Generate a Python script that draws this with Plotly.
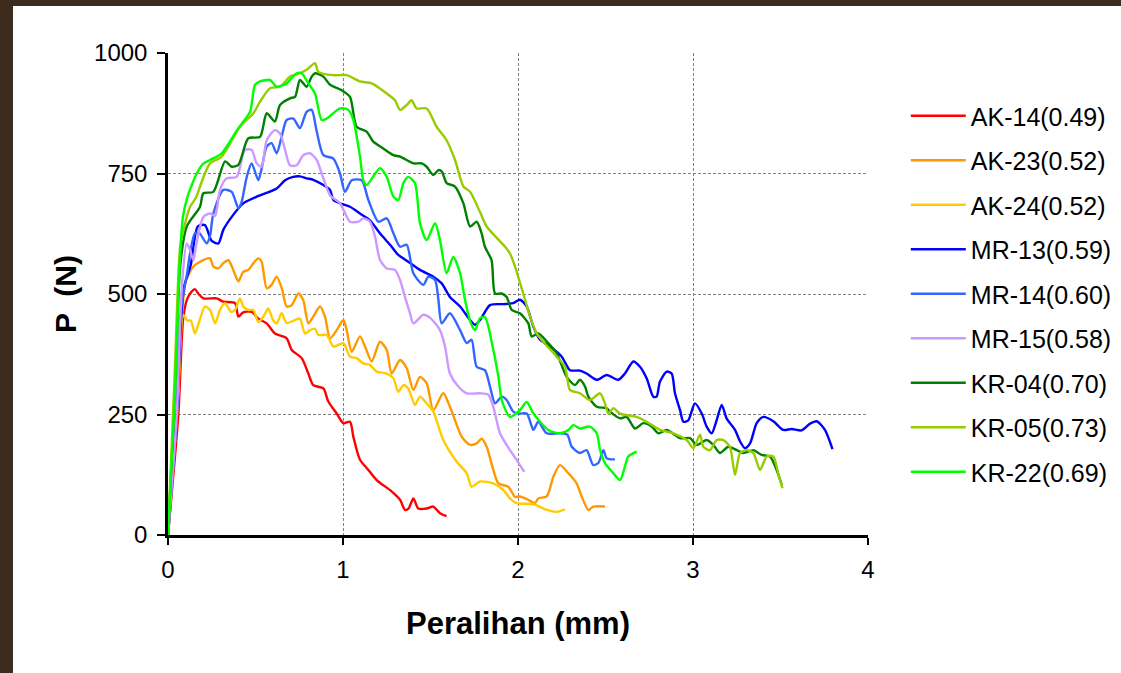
import plotly.graph_objects as go

# ---------------- data ----------------
names = ["AK-14(0.49)", "AK-23(0.52)", "AK-24(0.52)", "MR-13(0.59)", "MR-14(0.60)",
         "MR-15(0.58)", "KR-04(0.70)", "KR-05(0.73)", "KR-22(0.69)"]
colors = ["#FF0000", "#FF9900", "#FFCC00", "#0000FF", "#3366FF",
          "#CC99FF", "#008000", "#99CC00", "#00FF00"]

ak14_x = [0, 0.059, 0.087, 0.11, 0.135, 0.154, 0.175, 0.202, 0.278, 0.316, 0.383, 0.402, 0.43, 0.478,
          0.516, 0.564, 0.611, 0.678, 0.707, 0.764, 0.802, 0.83, 0.888, 0.916, 0.964, 1.002, 1.04, 1.059,
          1.097, 1.145, 1.192, 1.269, 1.326, 1.354, 1.375, 1.402, 1.43, 1.478, 1.516, 1.554, 1.592]
ak14_y = [0, 250, 450, 490, 505, 510, 500, 491, 491, 484, 481, 453, 462, 463, 449, 439, 418, 408, 384,
          367, 335, 311, 304, 277, 252, 232, 235, 204, 156, 135, 114, 93, 73, 52, 55, 76, 55, 55, 59, 45, 39]

ak23_x = [0, 0.05, 0.085, 0.1, 0.145, 0.183, 0.24, 0.259, 0.288, 0.316, 0.345, 0.373, 0.402, 0.43, 0.459,
          0.488, 0.516, 0.535, 0.564, 0.592, 0.621, 0.65, 0.678, 0.707, 0.745, 0.773, 0.802, 0.83, 0.869,
          0.897, 0.926, 0.964, 1.002, 1.021, 1.05, 1.097, 1.126, 1.164, 1.211, 1.25, 1.278, 1.326, 1.364,
          1.402, 1.44, 1.478, 1.516, 1.573, 1.611, 1.678, 1.726, 1.764, 1.792, 1.821, 1.859, 1.888, 1.945,
          1.983, 2.011, 2.059, 2.097, 2.116, 2.164, 2.202, 2.24, 2.288, 2.335, 2.364, 2.402, 2.43, 2.497]
ak23_y = [0, 250, 480, 525, 557, 567, 574, 557, 553, 564, 570, 550, 526, 546, 550, 564, 574, 567, 512,
          519, 536, 512, 474, 477, 501, 487, 439, 453, 474, 453, 408, 425, 446, 425, 380, 412, 391, 360,
          401, 384, 335, 363, 346, 301, 328, 315, 259, 294, 266, 204, 187, 190, 200, 183, 135, 107, 100,
          79, 80, 73, 66, 76, 80, 121, 145, 128, 107, 80, 52, 59, 59]

ak24_x = [0, 0.06, 0.075, 0.088, 0.11, 0.13, 0.154, 0.18, 0.211, 0.24, 0.269, 0.297, 0.326, 0.36, 0.383,
          0.411, 0.43, 0.459, 0.488, 0.516, 0.545, 0.573, 0.6, 0.621, 0.649, 0.678, 0.726, 0.754, 0.783,
          0.811, 0.84, 0.859, 0.907, 0.945, 1.002, 1.04, 1.078, 1.116, 1.154, 1.192, 1.25, 1.288, 1.316,
          1.345, 1.373, 1.411, 1.44, 1.478, 1.516, 1.573, 1.65, 1.707, 1.735, 1.783, 1.859, 1.916, 1.954,
          1.992, 2.088, 2.164, 2.221, 2.269]
ak24_y = [0, 300, 440, 456, 445, 445, 418, 445, 474, 467, 439, 467, 481, 463, 467, 491, 474, 467, 467,
          442, 453, 470, 446, 439, 460, 440, 446, 449, 418, 425, 428, 415, 415, 391, 398, 370, 367, 356,
          353, 339, 335, 325, 297, 311, 304, 270, 287, 273, 256, 197, 152, 128, 100, 111, 107, 93, 76, 66,
          64, 52, 48, 53]

mr13_x = [0, 0.05, 0.075, 0.092, 0.13, 0.17, 0.211, 0.25, 0.288, 0.316, 0.364, 0.43, 0.507, 0.621, 0.669,
          0.716, 0.754, 0.792, 0.83, 0.888, 0.926, 0.945, 0.983, 1.04, 1.097, 1.154, 1.211, 1.269, 1.316,
          1.373, 1.44, 1.516, 1.564, 1.611, 1.669, 1.726, 1.754, 1.783, 1.84, 1.916, 1.973, 2.011, 2.05,
          2.088, 2.126, 2.183, 2.25, 2.297, 2.354, 2.392, 2.45, 2.507, 2.573, 2.611, 2.659, 2.697, 2.735,
          2.773, 2.792, 2.811, 2.85, 2.878, 2.897, 2.926, 2.945, 2.973, 3.011, 3.05, 3.078, 3.107, 3.135,
          3.164, 3.192, 3.24, 3.269, 3.297, 3.326, 3.364, 3.402, 3.459, 3.516, 3.564, 3.621, 3.669, 3.707,
          3.754, 3.797]
mr13_y = [0, 250, 450, 515, 560, 640, 643, 610, 605, 633, 660, 688, 702, 719, 736, 743, 744, 740, 737,
          726, 716, 695, 688, 681, 667, 653, 626, 602, 581, 567, 550, 536, 522, 494, 474, 446, 436, 446,
          477, 479, 481, 488, 474, 432, 405, 391, 370, 342, 341, 335, 322, 332, 322, 335, 360, 349, 325,
          287, 287, 318, 339, 335, 294, 259, 235, 238, 273, 252, 225, 211, 238, 270, 242, 218, 194, 180,
          190, 232, 245, 236, 218, 220, 217, 231, 236, 218, 178]

mr14_x = [0, 0.05, 0.075, 0.11, 0.126, 0.154, 0.18, 0.221, 0.24, 0.259, 0.316, 0.364, 0.402, 0.42, 0.45,
          0.478, 0.516, 0.535, 0.564, 0.592, 0.621, 0.649, 0.678, 0.716, 0.754, 0.792, 0.821, 0.85, 0.888,
          0.945, 0.983, 1.011, 1.05, 1.107, 1.145, 1.202, 1.25, 1.288, 1.326, 1.364, 1.402, 1.459, 1.488,
          1.526, 1.545, 1.564, 1.611, 1.669, 1.707, 1.735, 1.764, 1.811, 1.84, 1.869, 1.907, 1.935, 1.973,
          2.002, 2.05, 2.088, 2.116, 2.164, 2.24, 2.282, 2.307, 2.354, 2.392, 2.43, 2.46, 2.488, 2.507, 2.554]
mr14_y = [0, 250, 470, 545, 584, 626, 626, 605, 620, 667, 716, 712, 678, 690, 743, 771, 736, 760, 806,
          813, 792, 826, 861, 864, 844, 878, 882, 837, 788, 781, 750, 712, 736, 736, 695, 650, 657, 626,
          598, 602, 543, 519, 536, 529, 488, 439, 460, 425, 398, 405, 349, 342, 308, 273, 287, 280, 256,
          252, 252, 218, 235, 211, 211, 208, 183, 170, 176, 145, 150, 176, 159, 157]

mr15_x = [0, 0.05, 0.08, 0.107, 0.126, 0.145, 0.16, 0.202, 0.24, 0.269, 0.297, 0.335, 0.392, 0.44, 0.478,
          0.507, 0.535, 0.564, 0.611, 0.64, 0.669, 0.697, 0.735, 0.773, 0.811, 0.85, 0.878, 0.926, 0.983,
          1.04, 1.088, 1.116, 1.154, 1.183, 1.211, 1.25, 1.297, 1.326, 1.354, 1.383, 1.402, 1.459, 1.5,
          1.554, 1.583, 1.611, 1.659, 1.707, 1.783, 1.83, 1.859, 1.897, 1.954, 1.992, 2.036]
mr15_y = [0, 250, 520, 605, 591, 570, 600, 660, 667, 662, 716, 740, 743, 799, 799, 771, 764, 819, 840,
          833, 799, 767, 767, 788, 792, 778, 750, 705, 688, 650, 650, 657, 650, 619, 571, 553, 550, 529,
          494, 460, 439, 457, 450, 425, 391, 335, 308, 294, 294, 291, 266, 211, 176, 156, 131]

kr04_x = [0, 0.04, 0.07, 0.107, 0.183, 0.202, 0.259, 0.326, 0.364, 0.402, 0.459, 0.526, 0.564, 0.611,
          0.64, 0.697, 0.726, 0.754, 0.792, 0.821, 0.84, 0.888, 0.926, 0.992, 1.04, 1.078, 1.135, 1.173,
          1.23, 1.288, 1.326, 1.402, 1.45, 1.478, 1.516, 1.545, 1.565, 1.592, 1.64, 1.688, 1.726, 1.764,
          1.792, 1.811, 1.849, 1.869, 1.907, 1.935, 1.964, 2.011, 2.059, 2.078, 2.116, 2.173, 2.221, 2.278,
          2.326, 2.354, 2.383, 2.402, 2.45, 2.507, 2.526, 2.583, 2.621, 2.669, 2.716, 2.764, 2.802, 2.85,
          2.926, 2.983, 3.021, 3.078, 3.116, 3.154, 3.202, 3.25, 3.288, 3.345, 3.392, 3.44, 3.478, 3.507]
kr04_y = [0, 300, 560, 640, 681, 709, 712, 775, 764, 768, 823, 826, 875, 858, 892, 906, 909, 944, 930,
          951, 958, 951, 934, 923, 909, 847, 837, 816, 802, 788, 785, 771, 771, 764, 747, 757, 754, 730,
          723, 688, 640, 650, 626, 598, 570, 501, 501, 494, 467, 460, 439, 412, 418, 398, 377, 328, 311,
          322, 308, 287, 266, 263, 256, 242, 245, 221, 232, 225, 211, 218, 201, 201, 187, 197, 187, 170,
          183, 176, 170, 176, 166, 163, 135, 104]

kr05_x = [0, 0.04, 0.07, 0.1, 0.126, 0.16, 0.2, 0.24, 0.307, 0.411, 0.488, 0.526, 0.583, 0.64, 0.697,
          0.754, 0.802, 0.84, 0.859, 0.945, 1.021, 1.097, 1.164, 1.25, 1.297, 1.326, 1.364, 1.392, 1.421,
          1.478, 1.535, 1.592, 1.64, 1.688, 1.726, 1.783, 1.821, 1.926, 1.954, 1.983, 2.03, 2.069, 2.107,
          2.221, 2.269, 2.297, 2.354, 2.411, 2.469, 2.497, 2.516, 2.545, 2.583, 2.678, 2.735, 2.811, 2.888,
          2.964, 3.002, 3.04, 3.059, 3.097, 3.135, 3.173, 3.211, 3.24, 3.269, 3.307, 3.345, 3.383, 3.421,
          3.459, 3.487, 3.511]
kr05_y = [0, 350, 600, 650, 681, 700, 740, 771, 785, 847, 875, 899, 927, 930, 951, 958, 968, 979, 961,
          954, 954, 941, 937, 916, 902, 882, 892, 902, 885, 885, 847, 819, 778, 723, 712, 670, 640, 598,
          584, 557, 501, 453, 418, 370, 349, 301, 294, 280, 294, 273, 252, 263, 252, 245, 235, 218, 211,
          197, 180, 208, 183, 176, 197, 197, 183, 125, 170, 176, 170, 135, 163, 163, 128, 97]

kr22_x = [0, 0.04, 0.065, 0.085, 0.11, 0.14, 0.164, 0.2, 0.24, 0.307, 0.402, 0.469, 0.497, 0.526, 0.583,
          0.621, 0.678, 0.735, 0.764, 0.802, 0.84, 0.878, 0.907, 0.983, 1.03, 1.059, 1.097, 1.116, 1.135,
          1.211, 1.25, 1.288, 1.316, 1.345, 1.373, 1.411, 1.44, 1.478, 1.526, 1.554, 1.592, 1.63, 1.669,
          1.697, 1.73, 1.754, 1.783, 1.811, 1.859, 1.888, 1.907, 1.954, 2.011, 2.05, 2.088, 2.173, 2.24,
          2.288, 2.316, 2.354, 2.411, 2.45, 2.469, 2.497, 2.545, 2.583, 2.611, 2.63, 2.678]
kr22_y = [0, 300, 550, 660, 700, 730, 750, 770, 778, 792, 844, 878, 934, 941, 944, 930, 937, 958, 958,
          937, 916, 861, 864, 885, 882, 861, 785, 736, 726, 761, 743, 702, 695, 730, 743, 730, 647, 612,
          647, 612, 543, 577, 543, 488, 440, 425, 450, 452, 384, 328, 280, 245, 259, 276, 252, 218, 211,
          218, 228, 221, 225, 211, 176, 149, 128, 114, 142, 163, 173]

series_x = [ak14_x, ak23_x, ak24_x, mr13_x, mr14_x, mr15_x, kr04_x, kr05_x, kr22_x]
series_y = [ak14_y, ak23_y, ak24_y, mr13_y, mr14_y, mr15_y, kr04_y, kr05_y, kr22_y]

x_ticks = [0, 1, 2, 3, 4]
y_ticks = [0, 250, 500, 750, 1000]

# ---------------- figure ----------------
FONT = "Arial, Liberation Sans, sans-serif"
fig = go.Figure()

for i, (nm, col, xs, ys) in enumerate(zip(names, colors, series_x, series_y)):
    fig.add_trace(go.Scatter(
        x=xs, y=ys, mode="lines", name=nm, legendgroup=f"g{i}",
        line=dict(color=col, width=2.4, shape="spline", smoothing=0.7),
    ))

# white card on the wooden background
fig.add_shape(type="rect", xref="paper", yref="paper",
              x0=-0.2214, x1=1.4, y0=-0.35, y1=1.0975,
              fillcolor="white", line=dict(width=0), layer="below")

fig.update_layout(
    width=1121, height=673,
    margin=dict(l=168, r=253, t=53, b=138, pad=0, autoexpand=False),
    paper_bgcolor="#3d2c1e",
    plot_bgcolor="rgba(0,0,0,0)",
    font=dict(family=FONT, color="black", size=24),
    showlegend=True,
    legend=dict(
        x=1.054, y=0.917, xanchor="left", yanchor="top",
        bgcolor="rgba(0,0,0,0)", borderwidth=0,
        font=dict(family=FONT, size=25, color="black"),
        tracegroupgap=9, itemwidth=55,
    ),
    xaxis=dict(
        range=[0, 4], tickvals=x_ticks, ticktext=[str(v) for v in x_ticks],
        showline=True, linecolor="black", linewidth=2.5,
        ticks="outside", ticklen=7, tickwidth=2, tickcolor="black",
        showgrid=True, gridcolor="#808080", gridwidth=1, griddash="3px,2px",
        zeroline=False, tickfont=dict(size=24), ticklabelstandoff=4,
        title=dict(text="<b>Peralihan (mm)</b>", font=dict(size=31), standoff=31),
        mirror=False,
    ),
    yaxis=dict(
        range=[0, 1000], tickvals=y_ticks, ticktext=[str(v) for v in y_ticks],
        showline=True, linecolor="black", linewidth=2.5,
        ticks="outside", ticklen=8, tickwidth=2, tickcolor="black",
        showgrid=True, gridcolor="#808080", gridwidth=1, griddash="3px,2px",
        zeroline=False, tickfont=dict(size=24), ticklabelstandoff=5,
        title=dict(text="<b>P  (N)</b>", font=dict(size=30), standoff=9),
    ),
)

fig.write_html("out.html", include_plotlyjs=True, config={"displayModeBar": False},
               post_script="document.body.style.margin='0';document.body.style.overflow='hidden';")
